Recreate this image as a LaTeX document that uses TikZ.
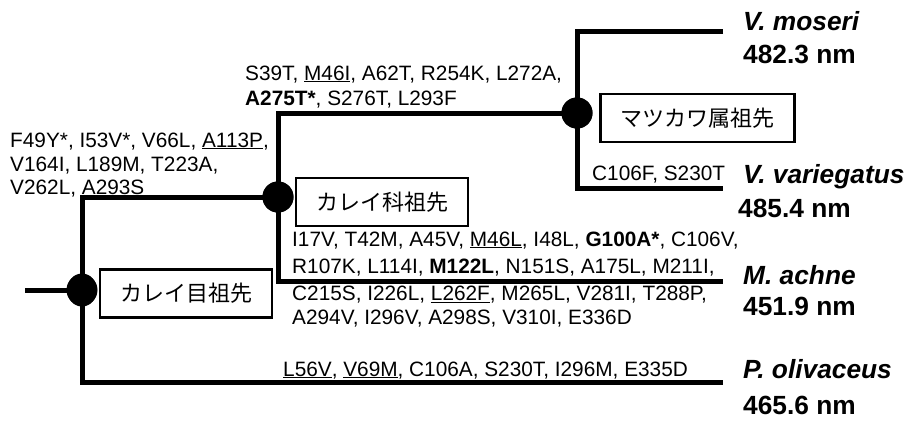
\documentclass[tikz,border=0pt]{standalone}
\usepackage{fontspec}
\setmainfont{Liberation Sans}
\newfontfamily\jpfont{Noto Sans CJK JP}
\begin{document}
\begin{tikzpicture}[x=1pt,y=-1pt,
  branch/.style={line width=5pt,line join=miter},
  junction/.style={circle,fill=black,draw=none,minimum size=31pt,inner sep=0},
  ancbox/.style={draw,line width=2.2pt,fill=white,minimum height=48pt,inner xsep=20pt,inner ysep=0pt,font=\fontsize{22}{26}\selectfont\jpfont},
  mut/.style={anchor=base west,inner sep=0pt,font=\fontsize{20.8}{25}\selectfont},
  spec/.style={anchor=base west,inner sep=0pt,font=\fontsize{26.3}{30}\selectfont\bfseries}]
\useasboundingbox (0,0) rectangle (914,421);

% coordinates
\coordinate (stub) at (25,290);
\coordinate (rb) at (82,382);
\coordinate (kb) at (278,281);
\coordinate (mb) at (577,188);
\coordinate (vm) at (723,31);
\coordinate (vv) at (723,188);
\coordinate (ma) at (723,281);
\coordinate (po) at (723,382);

% junctions
\node[junction] (r) at (82,290) {};
\node[junction] (k) at (278,197) {};
\node[junction] (m) at (577,113) {};

% branches
\draw[branch] (stub) -- (r.center);
\draw[branch] (k.center) -| (rb) -- (po);
\draw[branch] (m.center) -| (kb) -- (ma);
\draw[branch] (vm) -| (mb) -- (vv);

% junction discs on top
\fill (r) ellipse (15pt and 16.5pt);
\fill (k) circle (15.5pt);
\fill (m) circle (15.5pt);

% ancestor boxes
\node[ancbox] (rbox) at (186,293.5) {カレイ目祖先};
\node[ancbox] (kbox) at (382,202) {カレイ科祖先};
\node[ancbox] (mbox) at (697.5,118) {マツカワ属祖先};

% mutation texts
\node[mut] (l1) at (10,147) {F49Y*, I53V*, V66L, \underline{A113P},};
\node[mut] (l2) at (10,171) {V164I, L189M, T223A,};
\node[mut] (l3) at (10,194) {V262L, A293S};

\node[mut] (t1) at (245,80) {S39T, \underline{M46I}, A62T, R254K, L272A,};
\node[mut] (t2) at (245,105) {\textbf{A275T*}, S276T, L293F};

\node[mut] (c1) at (292,246) {I17V, T42M, A45V, \underline{M46L}, I48L, \textbf{G100A*}, C106V,};
\node[mut] (c2) at (292,273) {R107K, L114I, \textbf{M122L}, N151S, A175L, M211I,};
\node[mut] (c3) at (292,300.5) {C215S, I226L, \underline{L262F}, M265L, V281I, T288P,};
\node[mut] (c4) at (292,324.5) {A294V, I296V, A298S, V310I, E336D};

\node[mut] (vvm) at (592,180) {C106F, S230T};
\node[mut] (pom) at (283,376) {\underline{L56V}, \underline{V69M}, C106A, S230T, I296M, E335D};

% species
\node[spec] (s1) at (743,30) {\itshape V. moseri};
\node[spec] (s1n) at (743,63) {482.3 nm};
\node[spec] (s2) at (743,183) {\itshape V. variegatus};
\node[spec] (s2n) at (738,217) {485.4 nm};
\node[spec] (s3) at (743,284) {\itshape M. achne};
\node[spec] (s3n) at (743,315) {451.9 nm};
\node[spec] (s4) at (743,378) {\itshape P. olivaceus};
\node[spec] (s4n) at (743,414) {465.6 nm};
\end{tikzpicture}
\end{document}
